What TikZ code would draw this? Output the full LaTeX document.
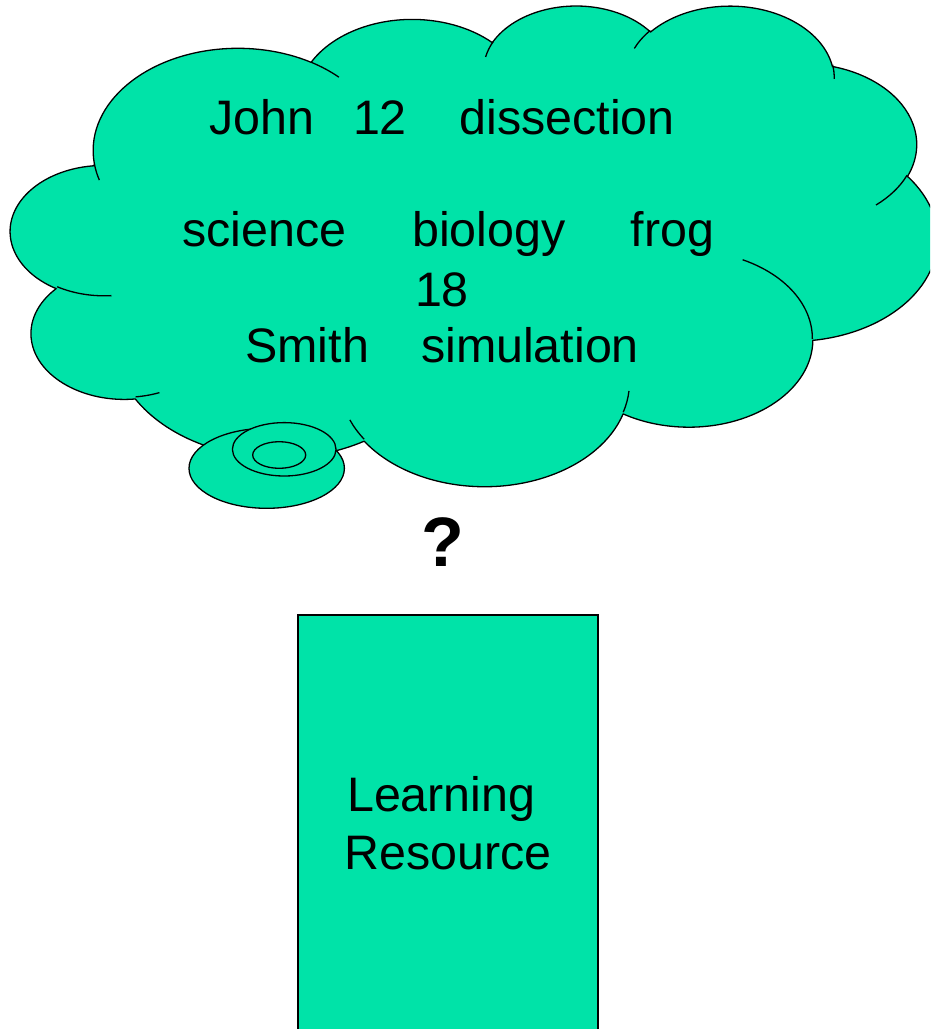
\documentclass[tikz,border=0pt]{standalone}
\usepackage{fontspec}
\setmainfont{Liberation Sans}
\definecolor{cloudgreen}{RGB}{0,227,168}
% cloud lobe arcs: name, x radius, y radius (shape units/100), start angle, sweep (visual angles, y down)
\newcommand\cldprep[5]{%
  \pgfmathsetmacro\cldta{atan2((#2)*sin(#4),(#3)*cos(#4))-(#4)}%
  \pgfmathsetmacro\cldtb{-((#4)+\cldta-360*round(\cldta/360))}%
  \pgfmathsetmacro\cldtc{atan2((#2)*sin((#4)+(#5)),(#3)*cos((#4)+(#5)))-((#4)+(#5))}%
  \pgfmathsetmacro\cldtd{-((#4)+(#5)+\cldtc-360*round(\cldtc/360))}%
  \pgfmathsetmacro\cldte{(#2)*2.1442}%
  \pgfmathsetmacro\cldtf{(#3)*1.1123}%
  \edef\cldtmp{\noexpand\tikzset{#1/.style={start angle=\cldtb, end angle=\cldtd, x radius=\cldte pt, y radius=\cldtf pt}}}%
  \cldtmp}
\cldprep{clA}{67.53}{91.90}{-190.48748}{123.78053}
\cldprep{clB}{53.33}{72.67}{-144.10238}{89.94523}
\cldprep{clC}{43.65}{59.45}{-145.80792}{99.72302}
\cldprep{clD}{48.57}{65.95}{-130.98607}{117.24173}
\cldprep{clE}{53.33}{72.73}{-78.70888}{109.02692}
\cldprep{clF}{67.75}{92.20}{-46.26725}{130.269}
\cldprep{clG}{57.85}{78.67}{0.62502}{114.03333}
\cldprep{clH}{67.52}{92.15}{22.4516}{115.17255}
\cldprep{clI}{77.20}{105.43}{66.24263}{75.71102}
\cldprep{clJ}{43.60}{59.18}{-274.94208}{146.73557}
\cldprep{clK}{43.45}{59.45}{-246.8285}{152.51885}
\cldprep{sA}{43.45}{59.45}{86.742}{26.430}
\cldprep{sB}{43.60}{59.18}{73.6105}{11.4475}
\cldprep{sC}{67.52}{92.15}{137.6242}{14.0811}
\cldprep{sD}{67.52}{92.15}{6.4533}{15.9984}
\cldprep{sE}{57.85}{78.67}{-70.2924}{70.9174}
\cldprep{sF}{53.33}{72.73}{30.3180}{27.7515}
\cldprep{sG}{48.57}{65.95}{-13.7443}{14.8589}
\cldprep{sH}{48.57}{65.95}{-149.1815}{18.1954}
\cldprep{sI}{43.65}{59.45}{-163.4943}{17.6864}
\cldprep{sJ}{67.53}{91.90}{-66.7070}{12.3194}
\cldprep{sK}{67.53}{91.90}{157.6544}{11.8582}
\tikzset{
  outline/.style={draw=black, line width=1.3pt, line join=round},
  greenshape/.style={outline, fill=cloudgreen},
  word/.style={anchor=base, inner sep=0pt, font=\fontsize{48.4}{58}\selectfont},
}
\begin{document}
\begin{tikzpicture}[x=1pt, y=-1pt]
\useasboundingbox (0,0) rectangle (930,1029);
\clip (0,0) rectangle (930,1029);
\fill[white] (0,0) rectangle (930,1029);
% cloud
\begin{scope}[shift={(10.85,4.44)}, x=2.1442pt, y=-1.1123pt]
\path[greenshape] (39.00,143.70) arc[clA] arc[clB] arc[clC] arc[clD] arc[clE]
  arc[clF] arc[clG] arc[clH] arc[clI] arc[clJ] arc[clK] -- cycle;
\path[outline] (46.93,261.77) arc[sA] (69.28,348.99) arc[sB]
  (164.78,390.90) arc[sC] (288.27,347.51) arc[sD] (341.29,229.54) arc[sE]
  (417.98,153.54) arc[sF] (383.24,54.26) arc[sG] (290.78,39.52) arc[sH]
  (221.41,47.20) arc[sI] (140.00,51.92) arc[sJ] (41.27,157.89) arc[sK];
\end{scope}
% thought bubbles
\path[greenshape] (266.7,468.3) ellipse[x radius=77.7pt, y radius=40pt];
\path[greenshape] (284.2,449.3) ellipse[x radius=51.8pt, y radius=26.7pt];
\path[greenshape] (279.2,455.0) ellipse[x radius=26.5pt, y radius=13.3pt];
% words in the cloud
\node[word] (w1) at (261.6,134.3) {John};
\node[word] (w2) at (380.0,134.3) {12};
\node[word] (w3) at (567.0,134.3) {dissection};
\node[word] (w4) at (264.3,246.7) {science};
\node[word] (w5) at (488.8,246.7) {biology};
\node[word] (w6) at (672.4,246.7) {frog};
\node[word] (w7) at (442.0,306.7) {18};
\node[word] (w8) at (307.2,362.3) {Smith};
\node[word] (w9) at (530.0,362.3) {simulation};
% question mark
\node[anchor=base, inner sep=0pt, font=\fontsize{70}{80}\selectfont\bfseries] (q) at (442.5,566) {?};
% learning resource box
\path[draw=black, line width=2pt, fill=cloudgreen] (298,615) rectangle (598,1040);
\node[word] (lr1) at (441.3,811.7) {Learning};
\node[word] (lr2) at (448.3,869.3) {Resource};
\end{tikzpicture}
\end{document}
